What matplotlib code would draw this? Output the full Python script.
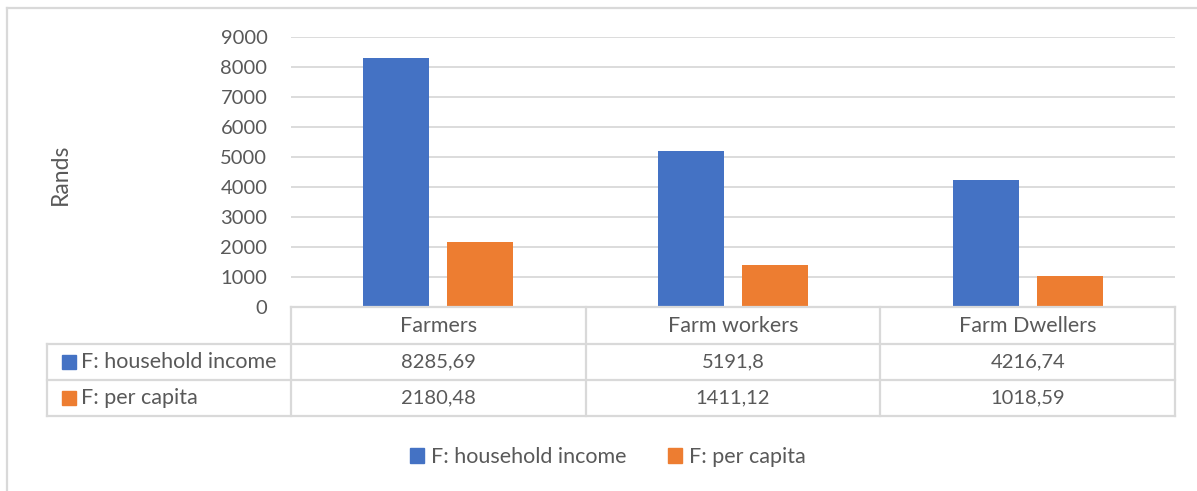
import matplotlib.pyplot as plt
from matplotlib.lines import Line2D
from matplotlib.patches import Patch

categories = ['Farmers', 'Farm workers', 'Farm Dwellers']
household_income = [8285.69, 5191.8, 4216.74]
per_capita = [2180.48, 1411.12, 1018.59]
series_names = ['F: household income', 'F: per capita']
y_ticks = [0, 1000, 2000, 3000, 4000, 5000, 6000, 7000, 8000, 9000]

BLUE = '#4472C4'
ORANGE = '#ED7D31'
GRID = '#D9D9D9'
TEXT = '#595959'

W, H = 1197, 491
LABEL_SIZE = 15.5
NUM_SIZE = 14.5


def fx(px):
    return px / W


def fy(py):
    return 1 - py / H


def fmt(v):
    return f'{v:g}'.replace('.', ',')


plt.rcParams['font.family'] = ['Lato', 'DejaVu Sans']

fig = plt.figure(figsize=(W / 100, H / 100), dpi=100)

left, right, top, bottom = 291, 1175, 37, 307
ax = fig.add_axes([fx(left), fy(bottom), fx(right - left), (bottom - top) / H])

x = list(range(len(categories)))
width = 0.224
offset = 0.143
ax.bar([i - offset for i in x], household_income, width, color=BLUE, zorder=3)
ax.bar([i + offset for i in x], per_capita, width, color=ORANGE, zorder=3)

ax.set_xlim(-0.5, len(categories) - 0.5)
ax.set_ylim(0, 9000)
ax.set_yticks(y_ticks)
ax.set_yticklabels([str(t) for t in y_ticks])
ax.set_xticks([])
ax.yaxis.grid(True, color=GRID, linewidth=1.3, zorder=0)
for side in ['top', 'right', 'left']:
    ax.spines[side].set_visible(False)
ax.spines['bottom'].set_color(GRID)
ax.spines['bottom'].set_linewidth(1.3)
ax.tick_params(axis='y', length=0, pad=17, labelcolor=TEXT, labelsize=NUM_SIZE)

fig.text(fx(60), fy(174), 'Rands', rotation=90, ha='center', va='center',
         color=TEXT, fontsize=16.5)

# data table under the plot
row_y = [307, 344, 380, 416]
col_x = [left + i * (right - left) / len(categories) for i in range(len(categories) + 1)]
label_left = 47


def hline(x0, x1, y):
    fig.add_artist(Line2D([fx(x0), fx(x1)], [fy(y), fy(y)], color=GRID, lw=1.6))


def vline(x0, y0, y1):
    fig.add_artist(Line2D([fx(x0), fx(x0)], [fy(y0), fy(y1)], color=GRID, lw=1.6))


hline(left, right, row_y[0])
for yy in row_y[1:]:
    hline(label_left, right, yy)
for xx in col_x:
    vline(xx, row_y[0], row_y[3])
vline(label_left, row_y[1], row_y[3])

for i, name in enumerate(categories):
    cx = (col_x[i] + col_x[i + 1]) / 2
    fig.text(fx(cx), fy((row_y[0] + row_y[1]) / 2), name, ha='center', va='center',
             color=TEXT, fontsize=LABEL_SIZE)
    fig.text(fx(cx), fy((row_y[1] + row_y[2]) / 2), fmt(household_income[i]),
             ha='center', va='center', color=TEXT, fontsize=NUM_SIZE)
    fig.text(fx(cx), fy((row_y[2] + row_y[3]) / 2), fmt(per_capita[i]),
             ha='center', va='center', color=TEXT, fontsize=NUM_SIZE)

for r, (name, color) in enumerate(zip(series_names, [BLUE, ORANGE])):
    cy = (row_y[r + 1] + row_y[r + 2]) / 2
    fig.add_artist(plt.Rectangle((fx(62), fy(cy + 7)), fx(14), 14 / H, color=color,
                                 transform=fig.transFigure))
    fig.text(fx(81), fy(cy), name, ha='left', va='center', color=TEXT,
             fontsize=LABEL_SIZE)

handles = [Patch(color=BLUE, label=series_names[0]),
           Patch(color=ORANGE, label=series_names[1])]
leg = fig.legend(handles=handles, loc='center', bbox_to_anchor=(fx(608), fy(457)),
                 ncol=2, frameon=False, handlelength=0.65, handleheight=0.65,
                 handletextpad=0.35, columnspacing=1.9, fontsize=LABEL_SIZE)
for t in leg.get_texts():
    t.set_color(TEXT)

# chart frame
fig.add_artist(Line2D([fx(7), fx(7)], [fy(8), 0], color=GRID, lw=1.6))
fig.add_artist(Line2D([fx(7), 1], [fy(8), fy(8)], color=GRID, lw=1.6))

fig.savefig('out.png', dpi=100)
